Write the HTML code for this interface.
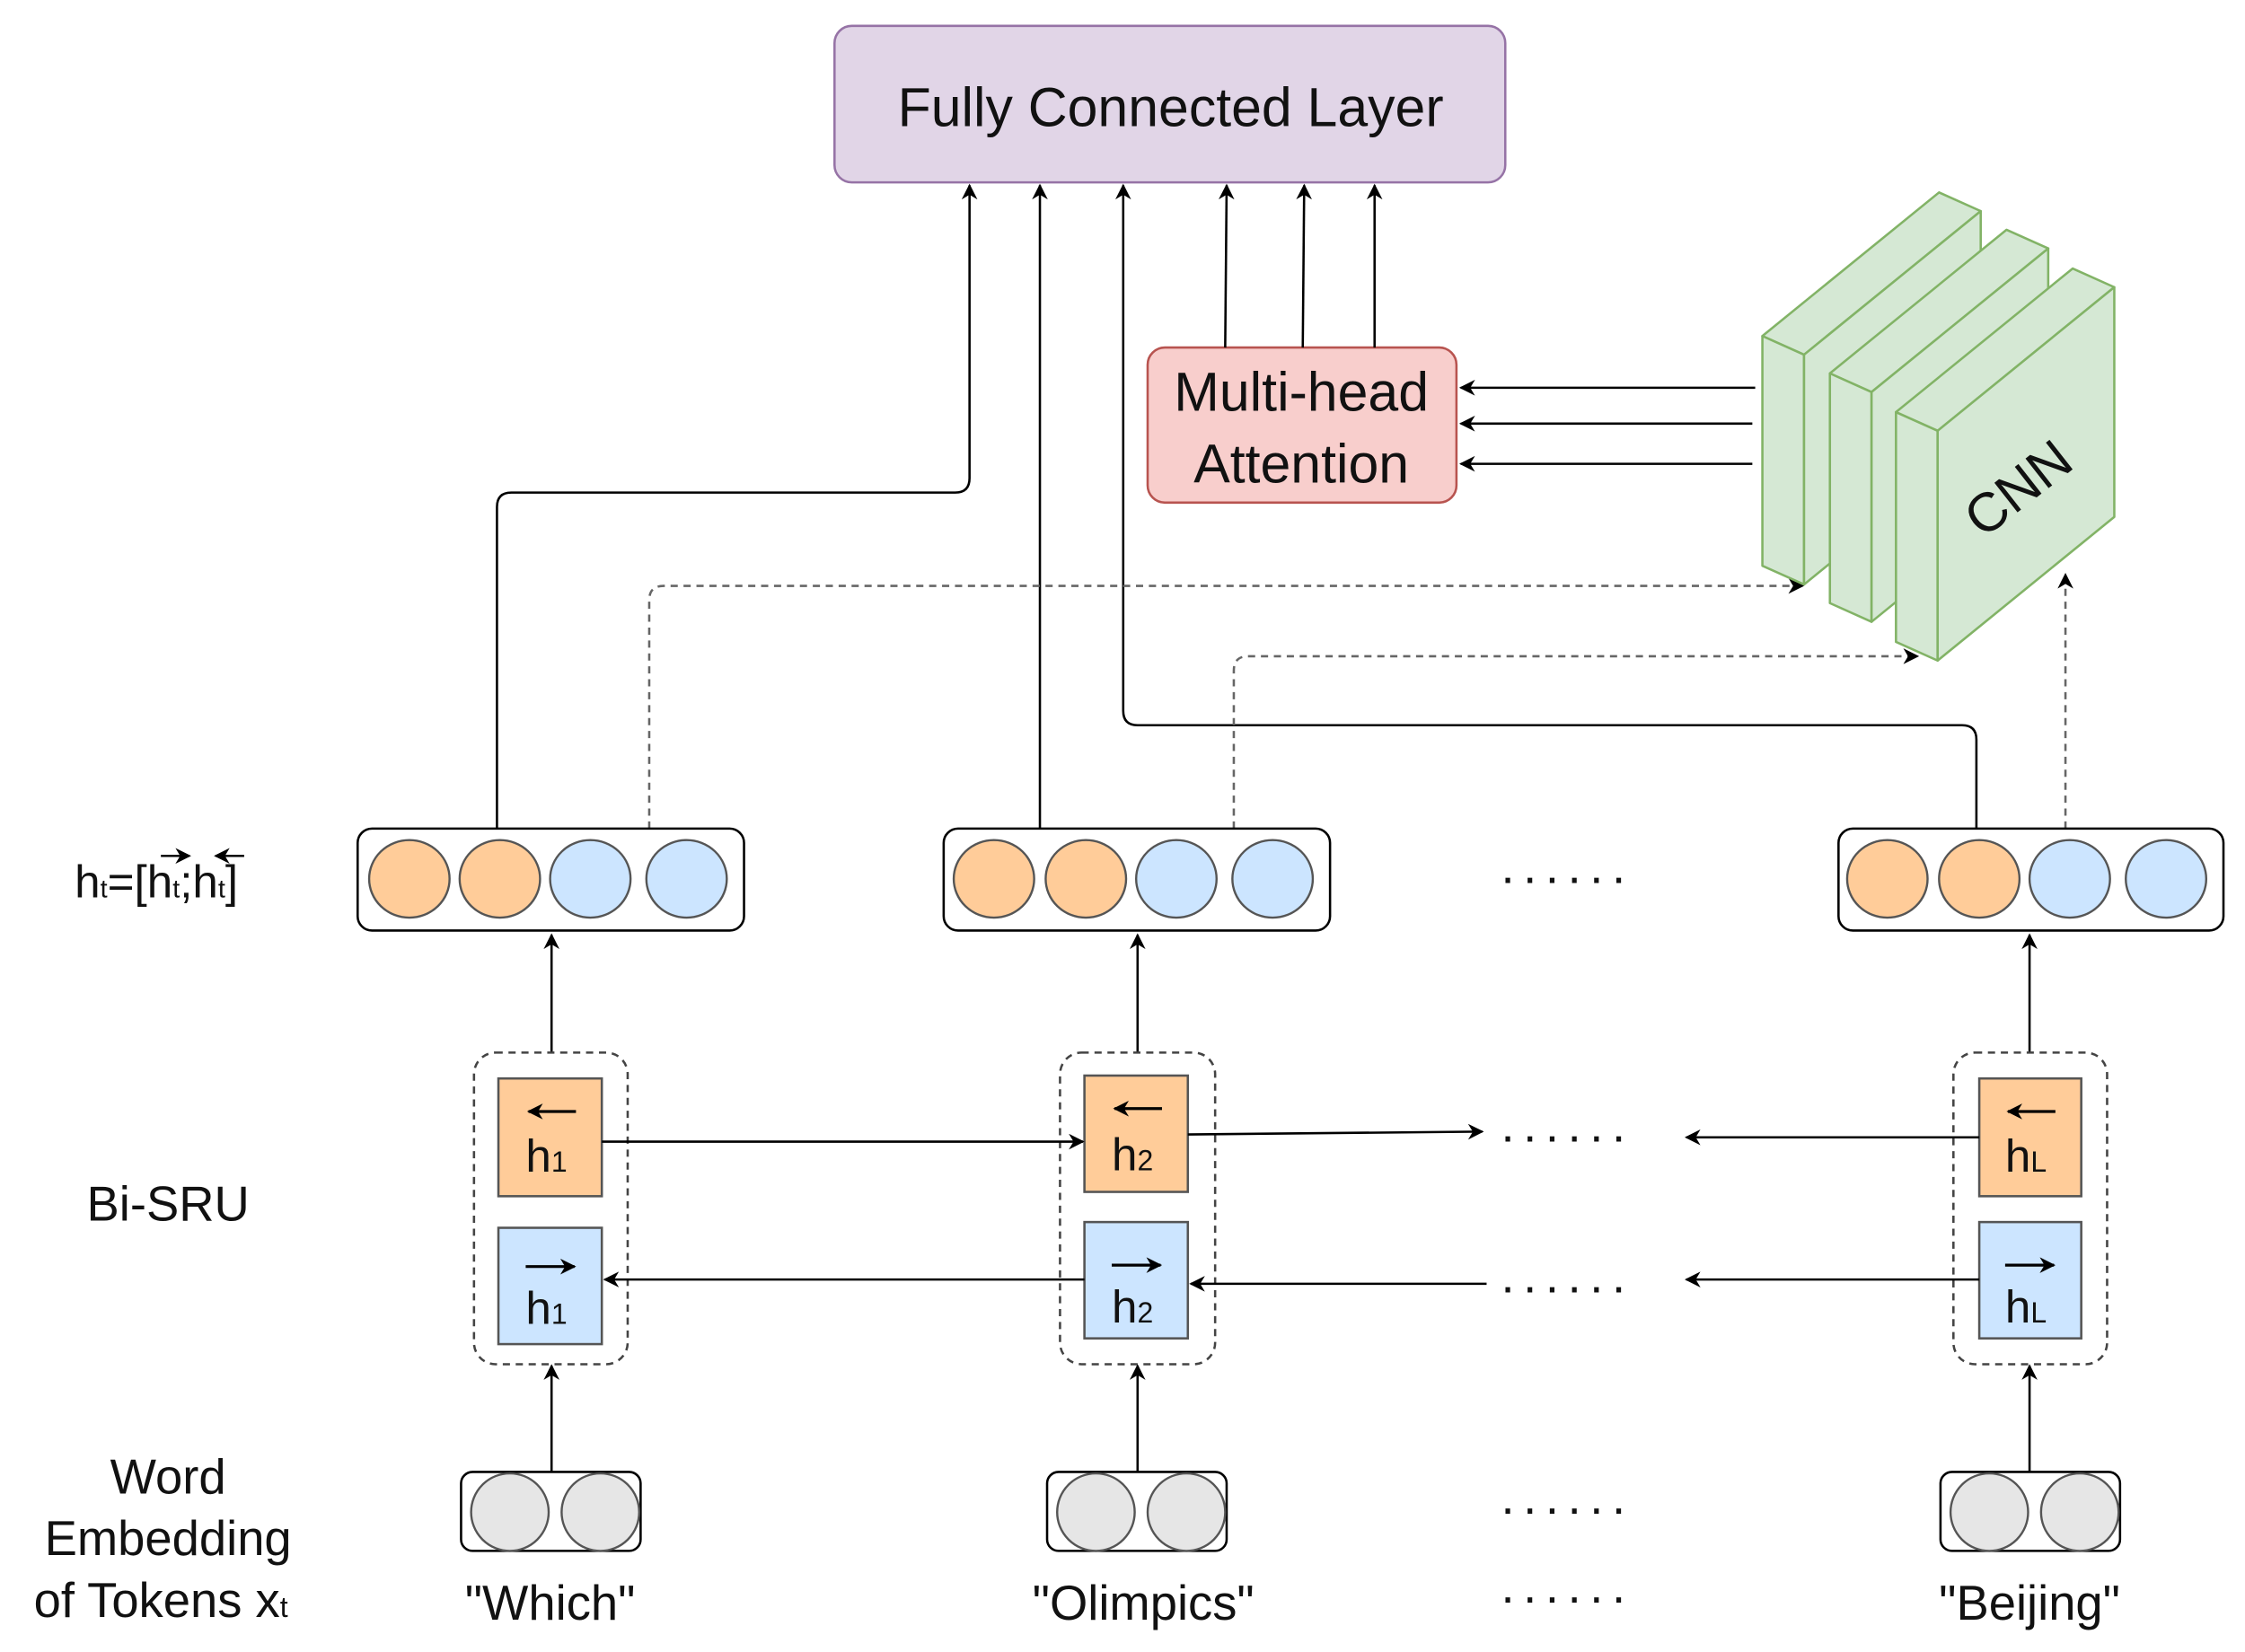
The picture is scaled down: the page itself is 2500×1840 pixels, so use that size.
<!DOCTYPE html>
<html><head><meta charset="utf-8"><style>
html,body{margin:0;padding:0;background:#fff;}
svg{display:block;}
text{font-family:"Liberation Sans",Arial,sans-serif;fill:#111;}
</style></head><body>
<svg width="2500" height="1840" viewBox="0 0 1563 1150.4" preserveAspectRatio="none" xmlns="http://www.w3.org/2000/svg">
<defs>
<marker id="a" viewBox="0 0 10 10" refX="9" refY="5" markerWidth="11" markerHeight="11" markerUnits="userSpaceOnUse" orient="auto">
<path d="M0,0 L10,5 L0,10 L3,5 Z" fill="#000"/></marker>
</defs>
<g fill="none" stroke="#000" stroke-width="1.6">
<rect x="581" y="18" width="467" height="109" rx="12" fill="#e1d5e7" stroke="#9673a6"/>
<rect x="799" y="242" width="215" height="108" rx="12" fill="#f8cecc" stroke="#b85450"/>
<line x1="853" y1="242" x2="854" y2="129" marker-end="url(#a)"/>
<line x1="907" y1="242" x2="908" y2="129" marker-end="url(#a)"/>
<line x1="957" y1="242" x2="957" y2="129" marker-end="url(#a)"/>
<line x1="1222" y1="270" x2="1017" y2="270" marker-end="url(#a)"/>
<line x1="1220" y1="295" x2="1017" y2="295" marker-end="url(#a)"/>
<line x1="1220" y1="323" x2="1017" y2="323" marker-end="url(#a)"/>
<path d="M346,577 V353 Q346,343 356,343 H665 Q675,343 675,333 V129" marker-end="url(#a)"/>
<line x1="724" y1="577" x2="724" y2="129" marker-end="url(#a)"/>
<path d="M1376,577 V515 Q1376,505 1366,505 H792 Q782,505 782,495 V129" marker-end="url(#a)"/>
<g stroke="#666" stroke-dasharray="5,4">
<path d="M452,577 V418 Q452,408 462,408 H1255" marker-end="url(#a)"/>
<path d="M859,577 V467 Q859,457 869,457 H1335" marker-end="url(#a)"/>
</g>
</g>
<g stroke="#82b366" stroke-width="1.6" fill="#d5e8d4" stroke-linejoin="round">
<g>
<polygon points="1227,234 1350,134 1379,147 1256,247"/>
<polygon points="1227,234 1256,247 1256,407 1227,394"/>
<polygon points="1256,247 1379,147 1379,307 1256,407"/>
</g>
<g transform="translate(47,26)">
<polygon points="1227,234 1350,134 1379,147 1256,247"/>
<polygon points="1227,234 1256,247 1256,407 1227,394"/>
<polygon points="1256,247 1379,147 1379,307 1256,407"/>
</g>
<g transform="translate(93,53)">
<polygon points="1227,234 1350,134 1379,147 1256,247"/>
<polygon points="1227,234 1256,247 1256,407 1227,394"/>
<polygon points="1256,247 1379,147 1379,307 1256,407"/>
</g>
</g>
<g fill="none" stroke="#666" stroke-width="1.6" stroke-dasharray="5,4">
<line x1="1438" y1="577" x2="1438" y2="400" marker-end="url(#a)"/>
</g>
<text x="1405" y="353" font-size="38" text-anchor="middle" transform="rotate(-38 1405 340)">CNN</text>
<text x="815" y="88" font-size="38" text-anchor="middle">Fully Connected Layer</text>
<text x="906" y="286" font-size="38" text-anchor="middle">Multi-head</text>
<text x="906" y="336" font-size="38" text-anchor="middle">Attention</text>

<g stroke="#000" stroke-width="1.6">
<rect x="249" y="577" width="269" height="71" rx="10" fill="#fff"/>
<rect x="657" y="577" width="269" height="71" rx="10" fill="#fff"/>
<rect x="1280" y="577" width="268" height="71" rx="10" fill="#fff"/>
</g>
<g stroke="#555" stroke-width="1.5">
<ellipse cx="285" cy="612" rx="28" ry="27" fill="#ffcc99"/><ellipse cx="348" cy="612" rx="28" ry="27" fill="#ffcc99"/>
<ellipse cx="411" cy="612" rx="28" ry="27" fill="#cce5ff"/><ellipse cx="478" cy="612" rx="28" ry="27" fill="#cce5ff"/>
<ellipse cx="692" cy="612" rx="28" ry="27" fill="#ffcc99"/><ellipse cx="756" cy="612" rx="28" ry="27" fill="#ffcc99"/>
<ellipse cx="819" cy="612" rx="28" ry="27" fill="#cce5ff"/><ellipse cx="886" cy="612" rx="28" ry="27" fill="#cce5ff"/>
<ellipse cx="1314" cy="612" rx="28" ry="27" fill="#ffcc99"/><ellipse cx="1378" cy="612" rx="28" ry="27" fill="#ffcc99"/>
<ellipse cx="1441" cy="612" rx="28" ry="27" fill="#cce5ff"/><ellipse cx="1508" cy="612" rx="28" ry="27" fill="#cce5ff"/>
</g>
<text x="1045" y="615" font-size="34" letter-spacing="6">......</text>

<g fill="none" stroke="#000" stroke-width="1.6">
<line x1="384" y1="733" x2="384" y2="651" marker-end="url(#a)"/>
<line x1="792" y1="733" x2="792" y2="651" marker-end="url(#a)"/>
<line x1="1413" y1="733" x2="1413" y2="651" marker-end="url(#a)"/>
<g stroke="#444" stroke-dasharray="5,4">
<rect x="330" y="733" width="107" height="217" rx="15"/>
<rect x="738" y="733" width="108" height="217" rx="15"/>
<rect x="1360" y="733" width="107" height="217" rx="15"/>
</g>
<g stroke="#555" stroke-width="1.6">
<rect x="347" y="751" width="72" height="82" fill="#ffcc99"/>
<rect x="755" y="749" width="72" height="81" fill="#ffcc99"/>
<rect x="1378" y="751" width="71" height="82" fill="#ffcc99"/>
<rect x="347" y="855" width="72" height="81" fill="#cce5ff"/>
<rect x="755" y="851" width="72" height="81" fill="#cce5ff"/>
<rect x="1378" y="851" width="71" height="81" fill="#cce5ff"/>
</g>
<line x1="419" y1="795" x2="754" y2="795" marker-end="url(#a)"/>
<line x1="827" y1="790" x2="1032" y2="788" marker-end="url(#a)"/>
<line x1="1378" y1="792" x2="1174" y2="792" marker-end="url(#a)"/>
<line x1="755" y1="891" x2="421" y2="891" marker-end="url(#a)"/>
<line x1="1035" y1="894" x2="829" y2="894" marker-end="url(#a)"/>
<line x1="1378" y1="891" x2="1174" y2="891" marker-end="url(#a)"/>
<line x1="384" y1="1025" x2="384" y2="951" marker-end="url(#a)"/>
<line x1="792" y1="1025" x2="792" y2="951" marker-end="url(#a)"/>
<line x1="1413" y1="1025" x2="1413" y2="951" marker-end="url(#a)"/>
<g stroke-width="2">
<line x1="401" y1="774" x2="368" y2="774" marker-end="url(#a)"/>
<line x1="809" y1="772" x2="776" y2="772" marker-end="url(#a)"/>
<line x1="1431" y1="774" x2="1398" y2="774" marker-end="url(#a)"/>
<line x1="366" y1="882" x2="400" y2="882" marker-end="url(#a)"/>
<line x1="774" y1="881" x2="808" y2="881" marker-end="url(#a)"/>
<line x1="1396" y1="881" x2="1430" y2="881" marker-end="url(#a)"/>
</g>
</g>
<g font-size="32">
<text x="366" y="816">h<tspan font-size="20">1</tspan></text>
<text x="774" y="815">h<tspan font-size="20">2</tspan></text>
<text x="1396" y="816">h<tspan font-size="20">L</tspan></text>
<text x="366" y="922">h<tspan font-size="20">1</tspan></text>
<text x="774" y="921">h<tspan font-size="20">2</tspan></text>
<text x="1396" y="921">h<tspan font-size="20">L</tspan></text>
</g>
<text x="1045" y="795" font-size="34" letter-spacing="6">......</text>
<text x="1045" y="900" font-size="34" letter-spacing="6">......</text>

<g stroke="#000" stroke-width="1.6">
<rect x="321" y="1025" width="125" height="55" rx="8" fill="#fff"/>
<rect x="729" y="1025" width="125" height="55" rx="8" fill="#fff"/>
<rect x="1351" y="1025" width="125" height="55" rx="8" fill="#fff"/>
</g>
<g stroke="#555" stroke-width="1.5" fill="#e6e6e6">
<ellipse cx="355" cy="1053" rx="27" ry="27"/><ellipse cx="418" cy="1053" rx="27" ry="27"/>
<ellipse cx="763" cy="1053" rx="27" ry="27"/><ellipse cx="826" cy="1053" rx="27" ry="27"/>
<ellipse cx="1385" cy="1053" rx="27" ry="27"/><ellipse cx="1448" cy="1053" rx="27" ry="27"/>
</g>
<text x="1045" y="1054" font-size="34" letter-spacing="6">......</text>
<text x="1045" y="1116" font-size="34" letter-spacing="6">......</text>
<g font-size="34" text-anchor="middle">
<text x="383" y="1128">"Which"</text>
<text x="796" y="1128">"Olimpics"</text>
<text x="1413" y="1128">"Beijing"</text>
<text x="117" y="850">Bi-SRU</text>
<text x="117" y="1040">Word</text>
<text x="117" y="1083">Embedding</text>
<text x="112" y="1126">of Tokens x<tspan font-size="20">t</tspan></text>
</g>
<text x="52" y="625" font-size="32">h<tspan font-size="18">t</tspan>=[h<tspan font-size="18">t</tspan>;h<tspan font-size="18">t</tspan>]</text>
<g stroke="#000" stroke-width="1.5">
<line x1="112" y1="596" x2="132" y2="596" marker-end="url(#a)"/>
<line x1="170" y1="596" x2="150" y2="596" marker-end="url(#a)"/>
</g>
</svg>
</body></html>
